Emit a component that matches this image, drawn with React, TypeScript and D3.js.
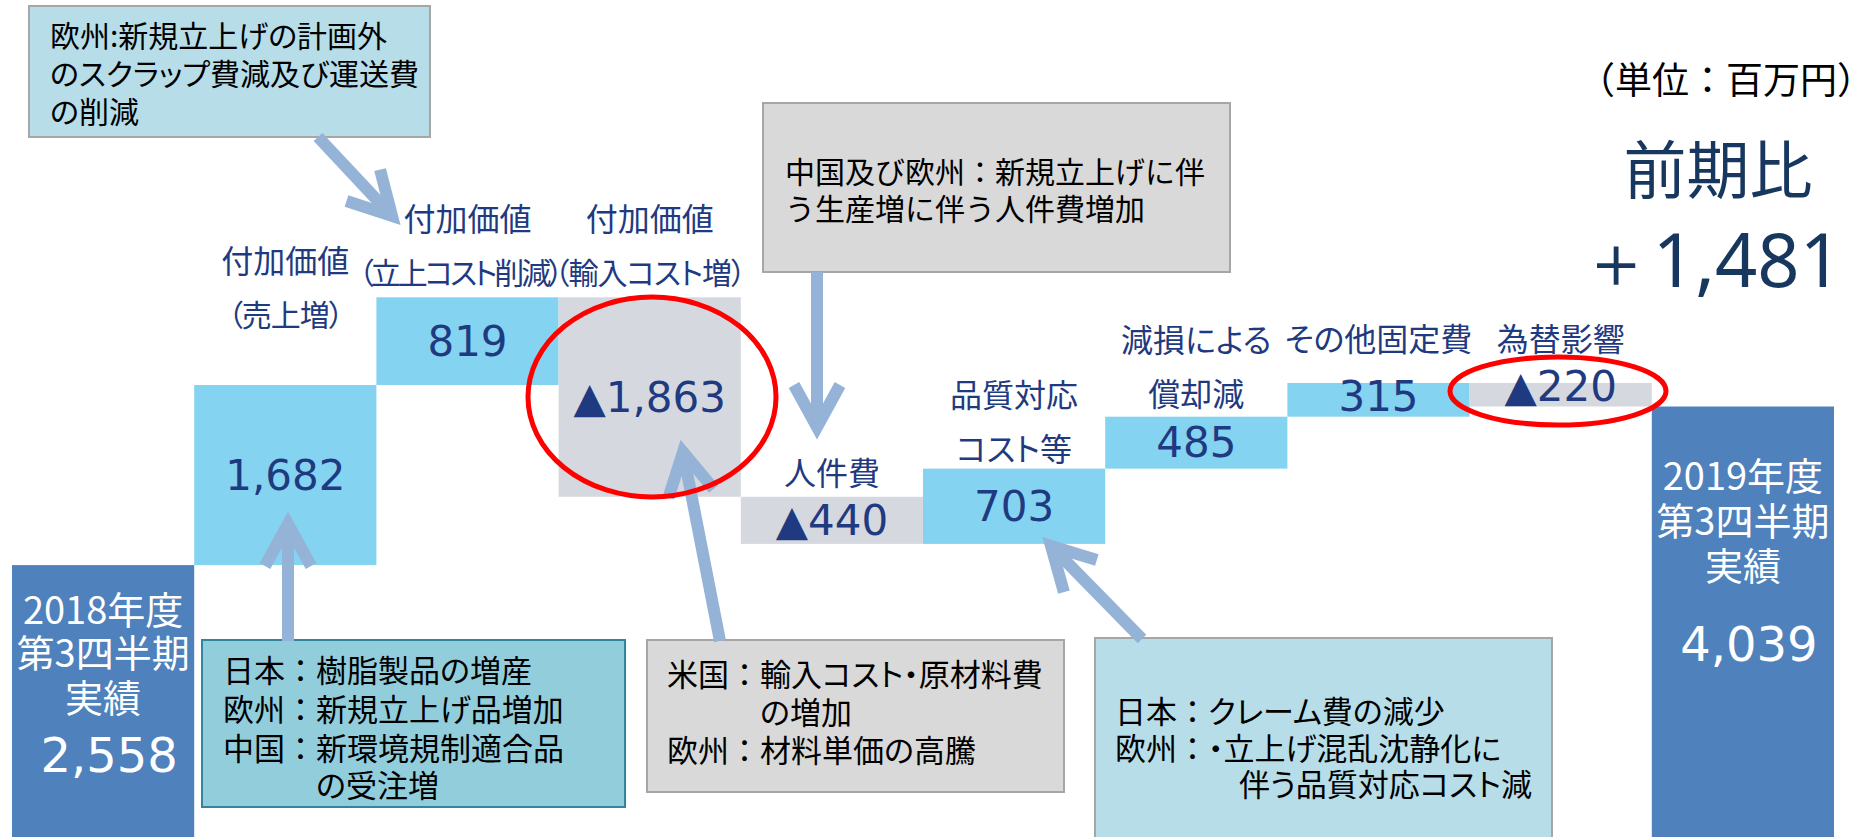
import React from "react";
import * as d3 from "d3";

// ---------------- DATA ----------------
const categories = [
  "2018年度第3四半期実績",
  "付加価値（売上増）",
  "付加価値（立上コスト削減）",
  "付加価値（輸入コスト増）",
  "人件費",
  "品質対応コスト等",
  "減損による償却減",
  "その他固定費",
  "為替影響",
  "2019年度第3四半期実績",
];
const labelLines = [
  [],
  ["付加価値", "（売上増）"],
  ["付加価値", "（立上コスト削減）"],
  ["付加価値", "（輸入コスト増）"],
  ["人件費"],
  ["品質対応", "コスト等"],
  ["減損による", "償却減"],
  ["その他固定費"],
  ["為替影響"],
  [],
];
const baseLines2018 = ["2018年度", "第3四半期", "実績"];
const baseLines2019 = ["2019年度", "第3四半期", "実績"];
const startValue = 2558;
const deltas = [1682, 819, -1863, -440, 703, 485, 315, -220];
const endValue = 4039;
const unitLabel = "（単位：百万円）";
const summaryTitle = "前期比";
const summaryValue = "＋1,481";

const note1 = ["欧州:新規立上げの計画外", "のスクラップ費減及び運送費", "の削減"];
const note2 = ["中国及び欧州：新規立上げに伴", "う生産増に伴う人件費増加"];
const note3 = [
  ["日本：", "樹脂製品の増産"],
  ["欧州：", "新規立上げ品増加"],
  ["中国：", "新環境規制適合品"],
  ["", "の受注増"],
];
const note4 = [
  ["米国：", "輸入コスト・原材料費"],
  ["", "の増加"],
  ["欧州：", "材料単価の高騰"],
];
const note5 = [
  ["日本：", "クレーム費の減少"],
  ["欧州：", "・立上げ混乱沈静化に"],
  ["", "　伴う品質対応コスト減"],
];

// ---------------- LAYOUT / STYLE ----------------
const W = 1852;
const H = 837;
const CJK = "'Noto Sans CJK JP', 'Noto Sans CJK SC', sans-serif";
const NUM = "'DejaVu Sans', Verdana, sans-serif";
const NAVY = "#1f3a80";
const C_UP = "#84d3f0";
const C_DOWN = "#d5d9df";
const C_BASE = "#4f81bd";
const C_ARROW = "#95b3d7";
const labelOffsets = [0, 72, 26, 26, 26, 22, 25, 46, 46, 0];
const LINE_GAP = 54;

export default function App() {
  const x = d3.scaleBand<string>().domain(categories).range([12, 1834]).padding(0);
  const y = d3.scaleLinear().domain([0, 4240]).range([839, 385]);
  const fmt = d3.format(",");
  const fmtSigned = (v: number) => (v < 0 ? "▲" + fmt(-v) : fmt(v));

  type Bar = { i: number; x0: number; x1: number; top: number; bottom: number; value: number; kind: string };
  const bars: Bar[] = [];
  let run = startValue;
  bars.push({ i: 0, x0: x(categories[0])!, x1: x(categories[0])! + x.bandwidth(), top: y(startValue), bottom: y(0), value: startValue, kind: "base" });
  deltas.forEach((d, k) => {
    const a = run;
    const b = run + d;
    run = b;
    const c = categories[k + 1];
    bars.push({
      i: k + 1,
      x0: x(c)!,
      x1: x(c)! + x.bandwidth(),
      top: y(Math.max(a, b)),
      bottom: y(Math.min(a, b)),
      value: d,
      kind: d >= 0 ? "up" : "down",
    });
  });
  const lastC = categories[categories.length - 1];
  bars.push({ i: 9, x0: x(lastC)!, x1: x(lastC)! + x.bandwidth(), top: y(endValue), bottom: y(0), value: endValue, kind: "base" });

  const arrow = (x1: number, y1: number, x2: number, y2: number, key: string) => {
    const dx = x2 - x1;
    const dy = y2 - y1;
    const len = Math.sqrt(dx * dx + dy * dy);
    const ux = dx / len;
    const uy = dy / len;
    const px = -uy;
    const py = ux;
    const back = 42;
    const side = 23;
    const a1x = x2 - ux * back + px * side;
    const a1y = y2 - uy * back + py * side;
    const a2x = x2 - ux * back - px * side;
    const a2y = y2 - uy * back - py * side;
    return (
      <g key={key} stroke={C_ARROW} strokeWidth={12} fill="none">
        <line x1={x1} y1={y1} x2={x2 - ux * 8} y2={y2 - uy * 8} />
        <polyline points={`${a1x},${a1y} ${x2},${y2} ${a2x},${a2y}`} strokeLinejoin="miter" strokeMiterlimit={10} />
      </g>
    );
  };

  const baseBlock = (bar: Bar, lines: string[], offs: number[], valOff: number) => {
    const cx = (bar.x0 + bar.x1) / 2;
    return (
      <g key={"bl" + bar.i} fill="#ffffff">
        {lines.map((t, k) => (
          <text key={k} x={cx} y={bar.top + offs[k]} textAnchor="middle" dominantBaseline="central" fontFamily={CJK} fontSize={38}>
            {t}
          </text>
        ))}
        <text x={cx + 6} y={bar.top + valOff} textAnchor="middle" dominantBaseline="central" fontFamily={NUM} fontSize={48}>
          {fmt(bar.value)}
        </text>
      </g>
    );
  };

  const noteLines = (lines: string[][], hx: number, bx: number, ys: number[], fs: number) =>
    lines.map((ln, k) => (
      <g key={k}>
        {ln[0] && (
          <text x={hx} y={ys[k]} dominantBaseline="central" fontFamily={CJK} fontSize={fs} fill="#000">
            {ln[0]}
          </text>
        )}
        <text x={bx} y={ys[k]} dominantBaseline="central" fontFamily={CJK} fontSize={fs} fill="#000" style={{ fontFeatureSettings: '"palt"' }}>
          {ln[1]}
        </text>
      </g>
    ));

  return (
    <svg width={W} height={H} viewBox={`0 0 ${W} ${H}`} style={{ position: "absolute", left: 0, top: 0, background: "#fff" }}>
      {bars.map((b) => (
        <rect key={"r" + b.i} x={b.x0} y={b.top} width={b.x1 - b.x0} height={b.bottom - b.top} fill={b.kind === "base" ? C_BASE : b.kind === "up" ? C_UP : C_DOWN} />
      ))}

      {bars
        .filter((b) => b.kind !== "base")
        .map((b) => {
          const h = b.bottom - b.top;
          const cy = (b.top + b.bottom) / 2 - Math.max(0, 40 - h) / 2;
          return (
            <text key={"v" + b.i} x={(b.x0 + b.x1) / 2} y={cy} textAnchor="middle" dominantBaseline="central" fontFamily={NUM} fontSize={42} fill={NAVY}>
              {fmtSigned(b.value)}
            </text>
          );
        })}

      {bars
        .filter((b) => b.kind !== "base")
        .map((b) => {
          const lines = labelLines[b.i];
          const lastY = b.top - labelOffsets[b.i];
          return (
            <g key={"l" + b.i}>
              {lines.map((t, k) => {
                const paren = t.startsWith("（");
                const long = t.length > 8;
                return (
                  <text
                    key={k}
                    x={(b.x0 + b.x1) / 2 - (long ? 8 : 0)}
                    y={lastY - (lines.length - 1 - k) * LINE_GAP}
                    textAnchor="middle"
                    dominantBaseline="central"
                    fontFamily={CJK}
                    fontSize={paren ? 30 : 32}
                    letterSpacing={paren ? (long ? -3 : -1) : 0}
                    fill={NAVY}
                    style={{ fontFeatureSettings: '"palt"' }}
                  >
                    {t}
                  </text>
                );
              })}
            </g>
          );
        })}

      {baseBlock(bars[0], baseLines2018, [42, 85, 130], 190)}
      {baseBlock(bars[9], baseLines2019, [67, 112, 157], 237)}

      <g>
        <rect x={29} y={6} width={401} height={131} fill="#b7dde8" stroke="#a6a6a6" strokeWidth={2} />
        {note1.map((t, k) => (
          <text key={k} x={50} y={34 + k * 38} dominantBaseline="central" fontFamily={CJK} fontSize={30} fill="#000" style={{ fontFeatureSettings: '"palt"' }}>
            {t}
          </text>
        ))}
      </g>
      <g>
        <rect x={763} y={103} width={467} height={169} fill="#d9d9d9" stroke="#a6a6a6" strokeWidth={2} />
        {note2.map((t, k) => (
          <text key={k} x={785} y={170 + k * 37} dominantBaseline="central" fontFamily={CJK} fontSize={30} fill="#000">
            {t}
          </text>
        ))}
      </g>
      <g>
        <rect x={202} y={640} width={423} height={167} fill="#92cddc" stroke="#31859c" strokeWidth={2} />
        {noteLines(note3, 223, 316, [668, 707, 746, 783], 31)}
      </g>
      <g>
        <rect x={647} y={640} width={417} height={152} fill="#d9d9d9" stroke="#a6a6a6" strokeWidth={2} />
        {noteLines(note4, 667, 760, [672, 710, 748], 31)}
      </g>
      <g>
        <rect x={1095} y={638} width={457} height={220} fill="#b7dde8" stroke="#a6a6a6" strokeWidth={2} />
        {noteLines(note5, 1115, 1208, [709, 746, 782], 31)}
      </g>

      {arrow(318, 137, 392, 216, "a1")}
      {arrow(817, 272, 817, 427, "a2")}
      {arrow(288, 641, 288, 524, "a3")}
      {arrow(720, 641, 683, 452, "a4")}
      {arrow(1142, 639, 1051, 546, "a5")}

      <ellipse cx={652} cy={397} rx={124} ry={100} fill="none" stroke="#ff0000" strokeWidth={5} />
      <ellipse cx={1558} cy={391} rx={108} ry={34} fill="none" stroke="#ff0000" strokeWidth={5} />

      <text x={1578} y={78} textAnchor="start" dominantBaseline="central" fontFamily={CJK} fontSize={37} fill="#000">
        {unitLabel}
      </text>
      <text x={1718} y={165} textAnchor="middle" dominantBaseline="central" fontFamily={CJK} fontSize={63} fill="#17375e">
        {summaryTitle}
      </text>
      <text x={1842} y={258} textAnchor="end" dominantBaseline="central" fontFamily={"'Noto Sans', sans-serif"} fontSize={74} fill="#17375e">
        {summaryValue}
      </text>
    </svg>
  );
}
